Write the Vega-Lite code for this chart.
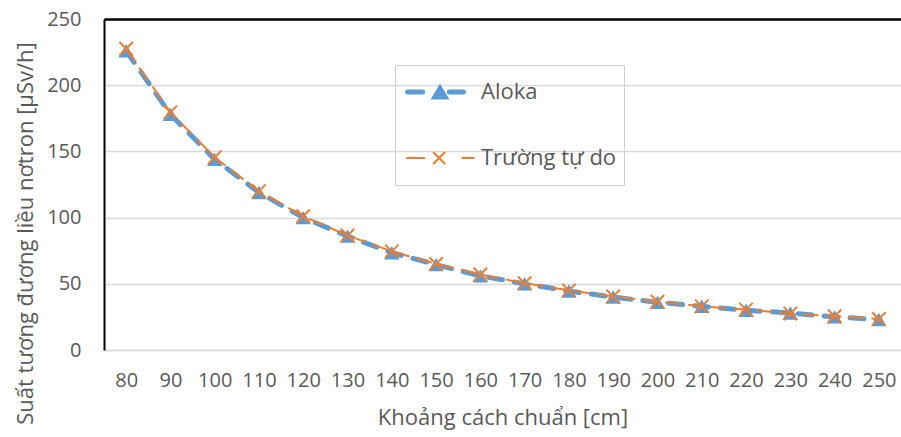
{
  "$schema": "https://vega.github.io/schema/vega-lite/v6.json",
  "width": 797,
  "height": 331,
  "autosize": "none",
  "padding": {"left": 104, "top": 19, "right": 0, "bottom": 87},
  "background": "white",
  "config": {
    "view": {"stroke": null},
    "font": "Open Sans",
    "axis": {"labelColor": "#595959", "titleColor": "#595959", "labelFont": "Open Sans", "titleFont": "Open Sans", "titleFontWeight": "normal"}
  },
  "data": {
    "values": [
      {"d": 80, "v": 226, "s": "Aloka"},
      {"d": 90, "v": 178, "s": "Aloka"},
      {"d": 100, "v": 144, "s": "Aloka"},
      {"d": 110, "v": 119, "s": "Aloka"},
      {"d": 120, "v": 100, "s": "Aloka"},
      {"d": 130, "v": 86, "s": "Aloka"},
      {"d": 140, "v": 73.5, "s": "Aloka"},
      {"d": 150, "v": 64.5, "s": "Aloka"},
      {"d": 160, "v": 56, "s": "Aloka"},
      {"d": 170, "v": 50, "s": "Aloka"},
      {"d": 180, "v": 44.5, "s": "Aloka"},
      {"d": 190, "v": 40, "s": "Aloka"},
      {"d": 200, "v": 36, "s": "Aloka"},
      {"d": 210, "v": 33, "s": "Aloka"},
      {"d": 220, "v": 30, "s": "Aloka"},
      {"d": 230, "v": 28, "s": "Aloka"},
      {"d": 240, "v": 25, "s": "Aloka"},
      {"d": 250, "v": 23, "s": "Aloka"},
      {"d": 80, "v": 227.5, "s": "Trường tự do"},
      {"d": 90, "v": 179.5, "s": "Trường tự do"},
      {"d": 100, "v": 145.5, "s": "Trường tự do"},
      {"d": 110, "v": 120, "s": "Trường tự do"},
      {"d": 120, "v": 101, "s": "Trường tự do"},
      {"d": 130, "v": 86.5, "s": "Trường tự do"},
      {"d": 140, "v": 74.5, "s": "Trường tự do"},
      {"d": 150, "v": 65, "s": "Trường tự do"},
      {"d": 160, "v": 57, "s": "Trường tự do"},
      {"d": 170, "v": 50.5, "s": "Trường tự do"},
      {"d": 180, "v": 45, "s": "Trường tự do"},
      {"d": 190, "v": 40.5, "s": "Trường tự do"},
      {"d": 200, "v": 36.5, "s": "Trường tự do"},
      {"d": 210, "v": 33, "s": "Trường tự do"},
      {"d": 220, "v": 30.5, "s": "Trường tự do"},
      {"d": 230, "v": 27.5, "s": "Trường tự do"},
      {"d": 240, "v": 25.5, "s": "Trường tự do"},
      {"d": 250, "v": 23.5, "s": "Trường tự do"}
    ]
  },
  "encoding": {
    "x": {
      "field": "d", "type": "ordinal",
      "scale": {"type": "point", "padding": 0.5},
      "axis": {
        "title": "Khoảng cách chuẩn [cm]",
        "labelAngle": 0, "labelFontSize": 20, "labelPadding": 30, "labelBaseline": "middle",
        "ticks": false, "domainColor": "#D9D9D9", "domainWidth": 1.5,
        "titleFontSize": 22, "titleY": 74, "titleBaseline": "alphabetic", "grid": false
      }
    },
    "y": {
      "field": "v", "type": "quantitative",
      "scale": {"domain": [0, 250], "nice": false},
      "axis": {
        "title": "Suất tương đương liều nơtron [μSv/h]",
        "values": [0, 50, 100, 150, 200, 250],
        "labelFontSize": 20, "labelPadding": 23, "ticks": false,
        "domainColor": "black", "domainWidth": 2,
        "grid": true,
        "gridColor": {"condition": {"test": "datum.value == 250", "value": "black"}, "value": "#D9D9D9"},
        "gridWidth": {"condition": {"test": "datum.value == 250", "value": 2.5}, "value": 1.5},
        "titleFontSize": 22, "titleX": -72, "titleY": 214, "titleBaseline": "alphabetic", "titleAngle": -90, "titleAlign": "center"
      }
    },
    "color": {
      "field": "s", "type": "nominal",
      "scale": {"domain": ["Aloka", "Trường tự do"], "range": ["#5B9BD5", "#ED7D31"]},
      "legend": {
        "title": null, "orient": "none", "legendX": 291, "legendY": 46,
        "padding": 7, "labelFontSize": 22, "labelColor": "#595959", "labelFont": "Open Sans",
        "labelOffset": 14, "rowPadding": 26, "clipHeight": 40, "symbolSize": 3600,
        "strokeColor": "#D0D0D0",
        "encode": {
          "symbols": {
            "update": {
              "x": {"value": 33.5},
              "size": {"value": 3600},
              "shape": {"signal": "datum.value === 'Aloka' ? 'M-0.93,0L-0.43,0M0.46,0L0.93,0M0.15,-0.12L0.32,0.17L-0.02,0.17Z' : 'M-0.98,0L-0.35,0M0.87,0L1.3,0M-0.08,-0.2L0.32,0.2M0.32,-0.2L-0.08,0.2'"},
              "strokeWidth": {"signal": "datum.value === 'Aloka' ? 5 : 2"},
              "strokeCap": {"signal": "datum.value === 'Aloka' ? 'round' : 'butt'"},
              "fill": {"signal": "datum.value === 'Aloka' ? '#5B9BD5' : 'transparent'"},
              "stroke": {"signal": "datum.value === 'Aloka' ? '#5B9BD5' : '#ED7D31'"},
              "strokeDash": {"value": []},
              "opacity": {"value": 1}
            }
          },
          "labels": {
            "update": {
              "x": {"value": 79}
            }
          }
        }
      }
    }
  },
  "layer": [
    {
      "transform": [{"filter": "datum.s === 'Aloka'"}],
      "mark": {"type": "line", "strokeWidth": 5, "strokeDash": [14, 12], "strokeCap": "round"}
    },
    {
      "transform": [{"filter": "datum.s === 'Aloka'"}],
      "mark": {"type": "point", "shape": "triangle-up", "filled": true, "size": 240, "opacity": 1}
    },
    {
      "transform": [{"filter": "datum.s !== 'Aloka'"}],
      "mark": {"type": "line", "strokeWidth": 2, "strokeDash": [16, 7]}
    },
    {
      "transform": [{"filter": "datum.s !== 'Aloka'"}],
      "mark": {"type": "point", "shape": "M-1,-1L1,1M1,-1L-1,1", "filled": false, "size": 180, "strokeWidth": 2, "opacity": 1}
    }
  ]
}
